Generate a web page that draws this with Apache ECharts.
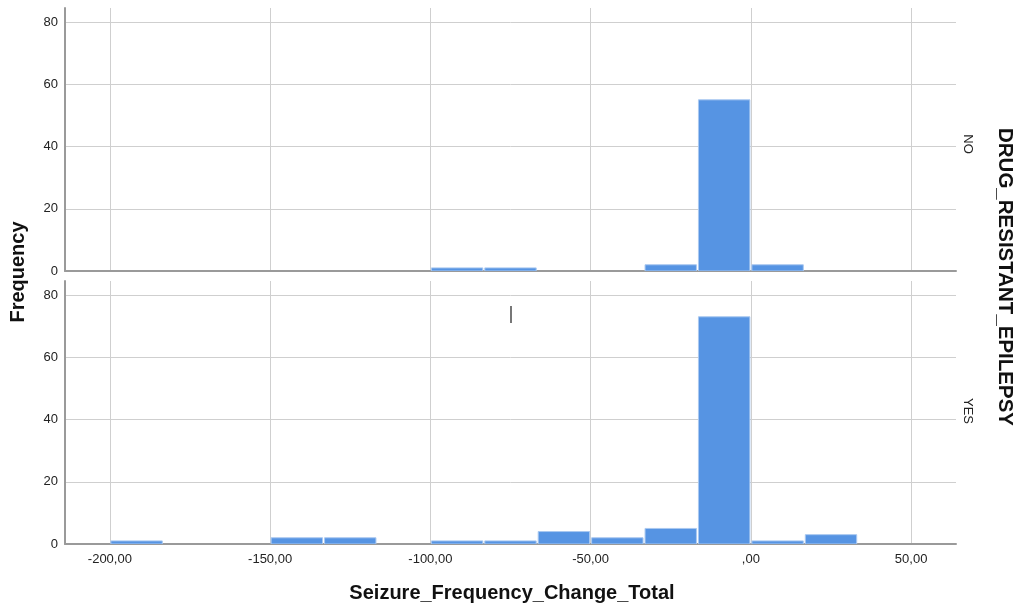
<!DOCTYPE html>
<html>
<head>
<meta charset="utf-8">
<script src="https://cdn.jsdelivr.net/npm/echarts@6/dist/echarts.min.js"></script>
<style>html,body{margin:0;padding:0;background:#fff}#c{width:1025px;height:610px}</style>
</head>
<body>
<div id="c"></div>
<script>
// Histogram bin edges (Seizure_Frequency_Change_Total)
const binEdges = [-200, -183.33, -166.67, -150, -133.33, -116.67, -100, -83.33, -66.67, -50, -33.33, -16.67, 0, 16.67, 33.33, 50];
// Frequencies per bin, panel DRUG_RESISTANT_EPILEPSY = NO
const countsNo  = [0, 0, 0, 0, 0, 0, 1, 1, 0, 0, 2, 55, 2, 0, 0];
// Frequencies per bin, panel DRUG_RESISTANT_EPILEPSY = YES
const countsYes = [1, 0, 0, 2, 2, 0, 1, 1, 4, 2, 5, 73, 1, 3, 0];
const xTicks = [-200, -150, -100, -50, 0, 50];
const yTicks = [0, 20, 40, 60, 80];
const panelLabels = ['NO', 'YES'];

function toItems(counts) {
  const out = [];
  counts.forEach((c, i) => { if (c > 0) out.push([binEdges[i], binEdges[i + 1], c]); });
  return out;
}
function fmtX(v) {
  if (v === 0) return ',00';
  return v.toFixed(2).replace('.', ',');
}
const FONT = '"Liberation Sans", Arial, sans-serif';
const gridCol = '#cfcfcf';
const axisCol = '#9a9a9a';

function renderBar(params, api) {
  const p0 = api.coord([api.value(0), api.value(2)]);
  const p1 = api.coord([api.value(1), 0]);
  return {
    type: 'rect',
    shape: { x: p0[0] + 1, y: p0[1], width: p1[0] - p0[0] - 2, height: p1[1] - p0[1] },
    style: { fill: '#5694e3', stroke: '#a9c8f0', lineWidth: 1 }
  };
}

function xAxisCfg(idx, showLabels) {
  return {
    type: 'value', gridIndex: idx, min: -214, max: 64,
    axisLine: { show: true, onZero: false, lineStyle: { color: axisCol, width: 2 } },
    axisTick: { show: false, customValues: xTicks },
    axisLabel: { show: showLabels, customValues: xTicks, formatter: fmtX, color: '#222', fontFamily: FONT, fontSize: 13, margin: 9 },
    splitLine: { show: true, lineStyle: { color: gridCol, width: 1 } }
  };
}
function yAxisCfg(idx) {
  return {
    type: 'value', gridIndex: idx, min: 0, max: 84.5,
    axisLine: { show: true, onZero: false, lineStyle: { color: axisCol, width: 2 } },
    axisTick: { show: false, customValues: yTicks },
    axisLabel: { customValues: yTicks, color: '#222', fontFamily: FONT, fontSize: 13, margin: 7 },
    splitLine: { show: true, lineStyle: { color: gridCol, width: 1 } }
  };
}

const chart = echarts.init(document.getElementById('c'), null, { renderer: 'canvas' });
chart.setOption({
  animation: false,
  backgroundColor: '#fff',
  grid: [
    { left: 65, right: 69, top: 8, height: 263 },
    { left: 65, right: 69, top: 281, height: 263 }
  ],
  xAxis: [xAxisCfg(0, false), xAxisCfg(1, true)],
  yAxis: [yAxisCfg(0), yAxisCfg(1)],
  series: [
    { type: 'custom', xAxisIndex: 0, yAxisIndex: 0, renderItem: renderBar, encode: { x: [0, 1], y: 2 }, data: toItems(countsNo), clip: true },
    { type: 'custom', xAxisIndex: 1, yAxisIndex: 1, renderItem: renderBar, encode: { x: [0, 1], y: 2 }, data: toItems(countsYes), clip: true,
      markLine: { silent: true, symbol: 'none', label: { show: false },
        lineStyle: { color: '#777', width: 2, type: 'solid' },
        data: [[{ coord: [-75, 71] }, { coord: [-75, 76.5] }]] } }
  ],
  graphic: [
    { type: 'text', x: 18, y: 272, rotation: Math.PI / 2, style: { text: 'Frequency', font: 'bold 20px ' + FONT, fill: '#111', align: 'center', verticalAlign: 'middle' } },
    { type: 'text', x: 512, y: 593, style: { text: 'Seizure_Frequency_Change_Total', font: 'bold 20px ' + FONT, fill: '#111', align: 'center', verticalAlign: 'middle' } },
    { type: 'text', x: 1005, y: 277, rotation: -Math.PI / 2, style: { text: 'DRUG_RESISTANT_EPILEPSY', font: 'bold 20.5px ' + FONT, fill: '#111', align: 'center', verticalAlign: 'middle' } },
    { type: 'text', x: 968, y: 144, rotation: -Math.PI / 2, style: { text: panelLabels[0], font: '13px ' + FONT, fill: '#222', align: 'center', verticalAlign: 'middle' } },
    { type: 'text', x: 968, y: 411, rotation: -Math.PI / 2, style: { text: panelLabels[1], font: '13px ' + FONT, fill: '#222', align: 'center', verticalAlign: 'middle' } }
  ]
});
</script>
</body>
</html>
